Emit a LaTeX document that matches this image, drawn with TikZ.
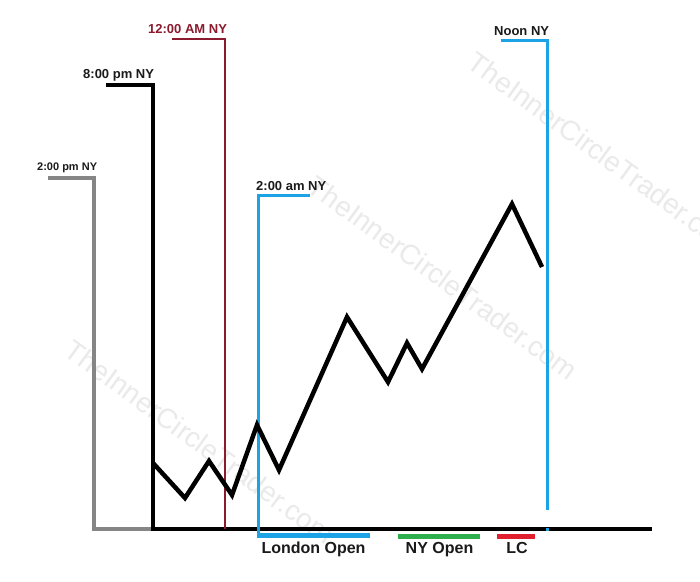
\documentclass[tikz,border=0pt]{standalone}
\usepackage{fontspec}
\setmainfont{Liberation Sans}
\definecolor{sky}{HTML}{1CA3E6}
\definecolor{wine}{HTML}{8C1A2E}
\definecolor{midgray}{HTML}{858585}
\definecolor{bargreen}{HTML}{2DB04B}
\definecolor{barred}{HTML}{E0202E}
\definecolor{ink}{HTML}{1A1A1A}
\definecolor{wm}{HTML}{EAEAEA}
\tikzset{
  lbl/.style={font=\bfseries\fontsize{13}{13}\selectfont, text=ink, inner sep=0pt, anchor=base west},
  smalllbl/.style={font=\bfseries\fontsize{11}{11}\selectfont, text=ink, inner sep=0pt, anchor=base west},
  barlbl/.style={font=\bfseries\fontsize{16}{16}\selectfont, text=ink, inner sep=0pt, anchor=base},
  watermark/.style={font=\fontsize{28}{28}\selectfont, text=wm, inner sep=0pt, rotate=-36},
  price/.style={line width=4.5pt, black, line join=miter},
}
\begin{document}
\begin{tikzpicture}[x=1pt,y=-1pt]
\useasboundingbox (0,0) rectangle (700,581);
\fill[white] (0,0) rectangle (700,581);
% watermarks
\begin{scope}
\clip (0,0) rectangle (700,581);
\node[watermark] (wm1) at (200,442) {TheInnerCircleTrader.com};
\node[watermark] (wm2) at (443,278) {TheInnerCircleTrader.com};
\node[watermark] (wm3) at (603,154) {TheInnerCircleTrader.com};
\end{scope}
% coordinates
\coordinate (g0) at (48,178);
\coordinate (g1) at (94,178);
\coordinate (g2) at (94,529);
\coordinate (g3) at (153,529);
\coordinate (k0) at (106,85);
\coordinate (k1) at (153,85);
\coordinate (k2) at (153,529);
\coordinate (k3) at (652,529);
\coordinate (r0) at (172,39);
\coordinate (r1) at (225,39);
\coordinate (r2) at (225,529);
\coordinate (b0) at (310,195);
\coordinate (b1) at (258,195);
\coordinate (b2) at (258,535);
\coordinate (b3) at (370,535);
\coordinate (n0) at (501,40);
\coordinate (n1) at (547,40);
\coordinate (n2) at (547,510);
\coordinate (n3) at (547,529);
% gray 2:00 pm
\draw[midgray, line width=4pt, line join=miter] (g0) -- (g1) -- (g2) -- (g3);
% baseline and 8:00 pm
\draw[black, line width=4.5pt, line join=miter] (k0) -- (k1) -- (k2) -- (k3);
% 12:00 AM
\draw[wine, line width=2.6pt, line join=miter] (r0) -- (r1) -- (r2);
% 2:00 am / London Open
\draw[sky, line width=3pt, line join=miter] (b0) -- (b1) -- (b2);
\draw[sky, line width=5pt] (257,535) -- (b3);
% Noon
\draw[sky, line width=3pt, line join=miter] (n0) -- (n1) -- (n2);
\fill[sky] (545.5,527.5) rectangle (548.5,531);
% session bars
\coordinate (ny0) at (398,536);
\coordinate (ny1) at (480,536);
\coordinate (lc0) at (497,536);
\coordinate (lc1) at (535,536);
\draw[bargreen, line width=5pt] (ny0) -- (ny1);
\draw[barred, line width=5pt] (lc0) -- (lc1);
% price path
\coordinate (p0) at (153,463);
\coordinate (p1) at (185,498);
\coordinate (p2) at (209,461);
\coordinate (p3) at (232,495);
\coordinate (p4) at (257,425);
\coordinate (p5) at (279,470);
\coordinate (p6) at (347,317);
\coordinate (p7) at (388,382);
\coordinate (p8) at (407,343);
\coordinate (p9) at (422,369);
\coordinate (p10) at (512,204);
\coordinate (p11) at (542,267);
\draw[price] (p0) -- (p1) -- (p2) -- (p3) -- (p4) -- (p5) -- (p6) -- (p7) -- (p8) -- (p9) -- (p10) -- (p11);
% labels
\node[smalllbl] (t1) at (37,170) {2:00 pm NY};
\node[lbl] (t2) at (83,78) {8:00 pm NY};
\node[lbl, text=wine] (t3) at (148,33) {12:00 AM NY};
\node[lbl] (t4) at (256,190) {2:00 am NY};
\node[lbl] (t5) at (494,35) {Noon NY};
\node[barlbl] (s1) at (313.5,553) {London Open};
\node[barlbl] (s2) at (439.5,553) {NY Open};
\node[barlbl] (s3) at (517,553) {LC};
\end{tikzpicture}
\end{document}
